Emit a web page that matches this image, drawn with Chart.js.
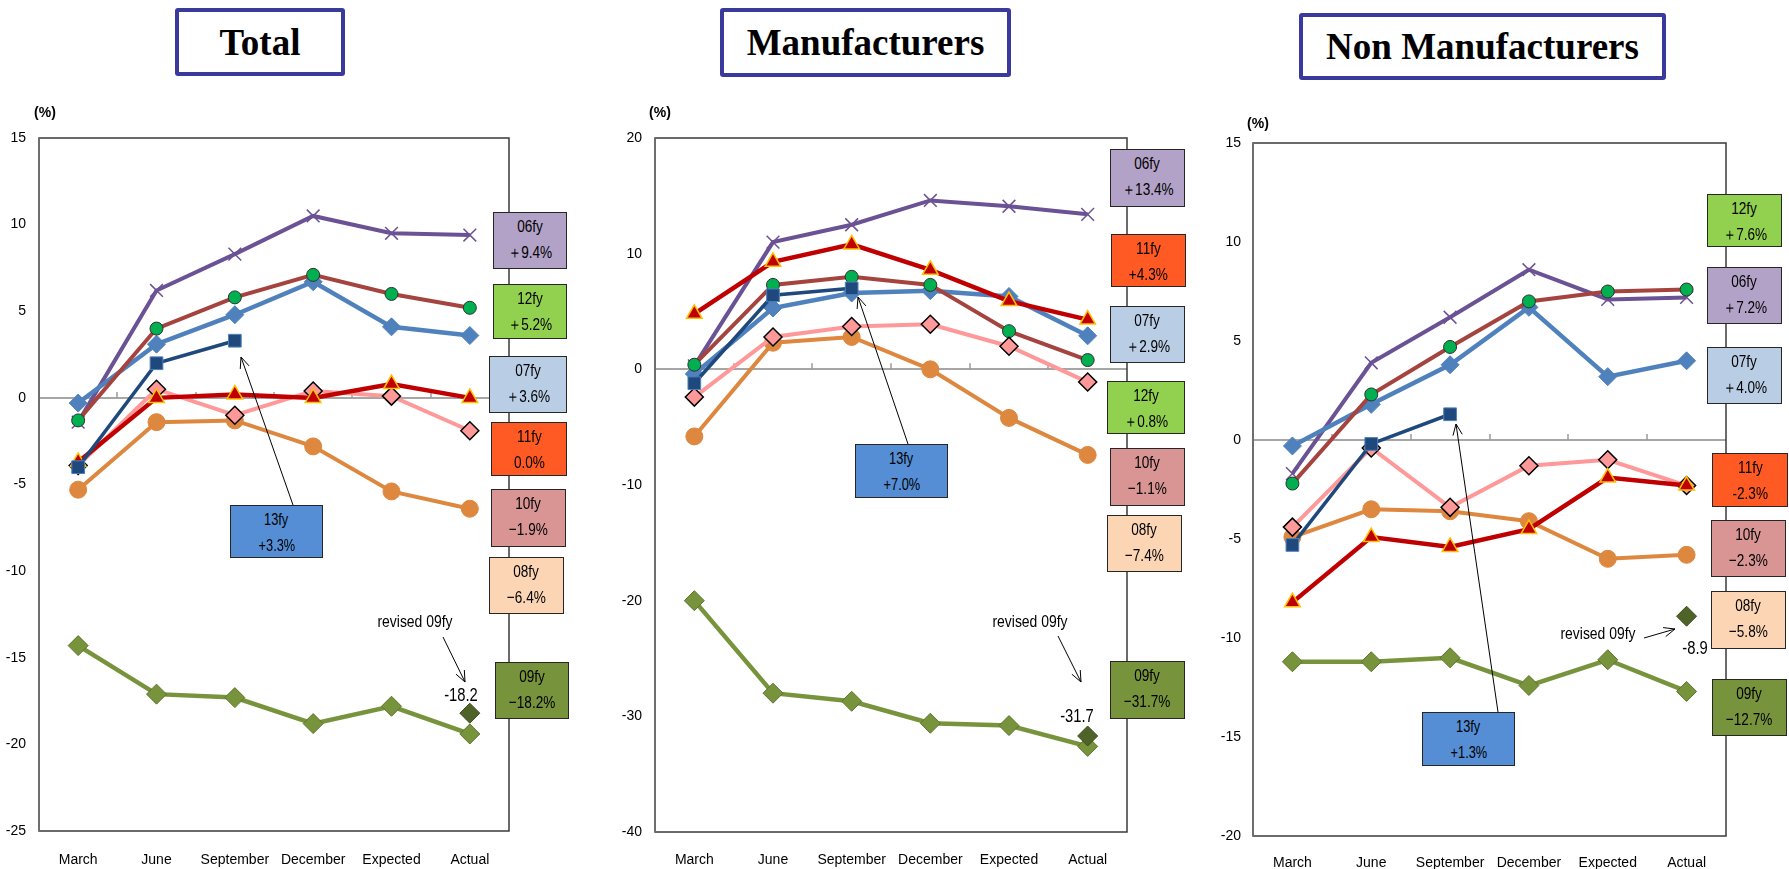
<!DOCTYPE html>
<html>
<head>
<meta charset="utf-8">
<script src="https://cdn.jsdelivr.net/npm/chart.js@4.4.0/dist/chart.umd.min.js"></script>
<style>
  body { margin: 0; background: #fff; }
  #page { position: relative; width: 1789px; height: 869px; overflow: hidden;
          font-family: 'Liberation Sans', Arial, sans-serif; }
  canvas { position: absolute; }
  .title { position: absolute; box-sizing: border-box; border: 4px solid #3A3A9C; border-radius: 3px;
           font-family: 'Liberation Serif', 'Times New Roman', serif; font-weight: bold; font-size: 37px;
           display: flex; align-items: center; justify-content: center; background: #fff; }
  .tag { position: absolute; box-sizing: border-box; border: 1.5px solid #262626; text-align: center;
         font-size: 17px; line-height: 26px; padding-top: 1px; color: #000; }
  .tag span { display: inline-block; transform: scaleX(0.8); white-space: nowrap; }
  .note { position: absolute; transform: translate(-50%, -50%) scaleX(0.82); white-space: nowrap; font-size: 17px; }
  .unit { position: absolute; transform: translate(-50%, -50%); font-weight: bold; font-size: 14px; }
</style>
</head>
<body>
<div id="page">
  <canvas id="chartTotal"></canvas>
  <canvas id="chartMfg"></canvas>
  <canvas id="chartNon"></canvas>
</div>
<script>
// categorie asse x
const categories = ['March', 'June', 'September', 'December', 'Expected', 'Actual'];

// Total
const total06 = [-1.4, 6.2, 8.3, 10.5, 9.5, 9.4];
const total07 = [-0.3, 3.1, 4.8, 6.7, 4.1, 3.6];
const total08 = [-5.3, -1.4, -1.3, -2.8, -5.4, -6.4];
const total09 = [-14.3, -17.1, -17.3, -18.8, -17.8, -19.4];
const total10 = [-3.9, 0.5, -1.0, 0.4, 0.1, -1.9];
const total11 = [-3.7, 0.0, 0.2, 0.0, 0.8, 0.0];
const total12 = [-1.3, 4.0, 5.8, 7.1, 6.0, 5.2];
const total13 = [-4.0, 2.0, 3.3];
const totalRevised09 = -18.2;

// Manufacturers
const mfg06 = [0.3, 11.0, 12.5, 14.6, 14.1, 13.4];
const mfg07 = [-0.4, 5.3, 6.6, 6.8, 6.3, 2.9];
const mfg08 = [-5.8, 2.3, 2.8, 0.0, -4.2, -7.4];
const mfg09 = [-20.0, -28.0, -28.7, -30.6, -30.8, -32.6];
const mfg10 = [-2.4, 2.8, 3.7, 3.9, 2.0, -1.1];
const mfg11 = [4.8, 9.3, 10.8, 8.6, 5.9, 4.3];
const mfg12 = [0.4, 7.3, 8.0, 7.3, 3.3, 0.8];
const mfg13 = [-1.2, 6.4, 7.0];
const mfgRevised09 = -31.7;

// Non Manufacturers
const non06 = [-1.7, 3.9, 6.2, 8.6, 7.1, 7.2];
const non07 = [-0.3, 1.8, 3.8, 6.7, 3.2, 4.0];
const non08 = [-4.9, -3.5, -3.6, -4.1, -6.0, -5.8];
const non09 = [-11.2, -11.2, -11.0, -12.4, -11.1, -12.7];
const non10 = [-4.4, -0.4, -3.4, -1.3, -1.0, -2.3];
const non11 = [-8.2, -4.9, -5.4, -4.5, -1.9, -2.3];
const non12 = [-2.2, 2.3, 4.7, 7.0, 7.5, 7.6];
const non13 = [-5.3, -0.2, 1.3];
const nonRevised09 = -8.9;

// stili delle serie (ordine = ordine di disegno, il primo sta sopra)
const seriesStyles = {
    '13fy': { color: '#1F497D', width: 3.5, point: 'rect', r: 9, fill: '#1F497D', edge: '#4F81BD', edgeW: 1 },
    '11fy': { color: '#C00000', width: 4.5, point: 'triangle', r: 9, fill: '#C00000', edge: '#FFC000', edgeW: 1.5 },
    '10fy': { color: '#FF9999', width: 4, point: 'rectRot', r: 9, fill: '#FF9999', edge: '#000000', edgeW: 1.5 },
    '12fy': { color: '#A5443F', width: 4, point: 'circle', r: 6.5, fill: '#00B050', edge: '#303030', edgeW: 1 },
    '07fy': { color: '#4F81BD', width: 4.5, point: 'rectRot', r: 9, fill: '#4F81BD', edge: '#4F81BD', edgeW: 1 },
    '06fy': { color: '#6B5294', width: 4, point: 'crossRot', r: 9, fill: '#6B5294', edge: '#6B5294', edgeW: 1.5 },
    '08fy': { color: '#DE873F', width: 4, point: 'circle', r: 8.5, fill: '#DE873F', edge: '#DE873F', edgeW: 1 },
    '09fy': { color: '#77933C', width: 4.5, point: 'rectRot', r: 10, fill: '#77933C', edge: '#5C7530', edgeW: 1 }
};

const tagColors = {
    '06fy': '#B3A2C7', '07fy': '#B9CDE5', '08fy': '#FCD5B5', '09fy': '#77933C',
    '10fy': '#D99594', '11fy': '#FF5A24', '12fy': '#92D050', '13fy': '#558ED5'
};

const panels = [
    {
        id: 'chartTotal', left: 0, top: 90, width: 600, height: 779,
        area: { l: 39, t: 48, r: 509, b: 741 }, tickPad: 13, labelPad: 13,
        yMin: -25, yMax: 15, yStep: 5,
        title: { text: 'Total', x: 175, y: 8, w: 170, h: 68 },
        unit: { x: 45, y: 112 },
        series: { '13fy': total13, '11fy': total11, '10fy': total10, '12fy': total12,
                  '07fy': total07, '06fy': total06, '08fy': total08, '09fy': total09 },
        revised: totalRevised09,
        tags: [
            ['06fy', '＋9.4%', 493, 212, 74, 57],
            ['12fy', '＋5.2%', 493, 284, 74, 55],
            ['07fy', '＋3.6%', 489, 356, 78, 57],
            ['11fy', '0.0%', 491, 422, 76, 54],
            ['10fy', '−1.9%', 491, 489, 75, 58],
            ['08fy', '−6.4%', 489, 557, 75, 57],
            ['09fy', '−18.2%', 495, 662, 74, 57],
            ['13fy', '+3.3%', 230, 505, 93, 53]
        ],
        notes: [['revised 09fy', 415, 622, 17], ['-18.2', 461, 695, 18]],
        arrows: [[293, 505, 241, 357], [443, 637, 465, 682]]
    },
    {
        id: 'chartMfg', left: 600, top: 90, width: 600, height: 779,
        area: { l: 55, t: 48, r: 527, b: 742 }, tickPad: 13, labelPad: 12,
        yMin: -40, yMax: 20, yStep: 10,
        title: { text: 'Manufacturers', x: 720, y: 8, w: 291, h: 69 },
        unit: { x: 660, y: 112 },
        series: { '13fy': mfg13, '11fy': mfg11, '10fy': mfg10, '12fy': mfg12,
                  '07fy': mfg07, '06fy': mfg06, '08fy': mfg08, '09fy': mfg09 },
        revised: mfgRevised09,
        tags: [
            ['06fy', '＋13.4%', 1110, 149, 75, 58],
            ['11fy', '+4.3%', 1111, 234, 75, 53],
            ['07fy', '＋2.9%', 1110, 306, 75, 57],
            ['12fy', '＋0.8%', 1107, 381, 78, 53],
            ['10fy', '−1.1%', 1110, 448, 75, 58],
            ['08fy', '−7.4%', 1107, 515, 75, 57],
            ['09fy', '−31.7%', 1110, 661, 75, 58],
            ['13fy', '+7.0%', 855, 444, 93, 54]
        ],
        notes: [['revised 09fy', 1030, 622, 17], ['-31.7', 1077, 716, 18]],
        arrows: [[908, 444, 858, 297], [1058, 636, 1081, 682]]
    },
    {
        id: 'chartNon', left: 1200, top: 90, width: 589, height: 779,
        area: { l: 53, t: 53, r: 526, b: 746 }, tickPad: 12, labelPad: 11,
        yMin: -20, yMax: 15, yStep: 5,
        title: { text: 'Non Manufacturers', x: 1299, y: 13, w: 367, h: 67 },
        unit: { x: 1258, y: 123 },
        series: { '13fy': non13, '11fy': non11, '10fy': non10, '12fy': non12,
                  '07fy': non07, '06fy': non06, '08fy': non08, '09fy': non09 },
        revised: nonRevised09,
        tags: [
            ['12fy', '＋7.6%', 1707, 194, 75, 53],
            ['06fy', '＋7.2%', 1707, 267, 75, 57],
            ['07fy', '＋4.0%', 1707, 347, 75, 57],
            ['11fy', '-2.3%', 1712, 453, 76, 54],
            ['10fy', '−2.3%', 1711, 520, 75, 57],
            ['08fy', '−5.8%', 1711, 591, 75, 58],
            ['09fy', '−12.7%', 1712, 679, 75, 57],
            ['13fy', '+1.3%', 1422, 712, 93, 54]
        ],
        notes: [['revised 09fy', 1598, 634, 17], ['-8.9', 1695, 648, 18]],
        arrows: [[1498, 712, 1456, 424], [1644, 638, 1675, 629]]
    }
];

// cornice, tacche sulla linea dello zero, frecce
const framePlugin = {
    id: 'frame',
    beforeDatasetsDraw(chart) {
        const { ctx, chartArea: a, scales: { x, y } } = chart;
        ctx.save();
        const y0 = y.getPixelForValue(0);
        ctx.strokeStyle = '#9a9a9a';
        ctx.lineWidth = 1.5;
        for (let i = 0; i < categories.length - 1; i++) {
            const px = Math.round((x.getPixelForValue(i) + x.getPixelForValue(i + 1)) / 2);
            ctx.beginPath();
            ctx.moveTo(px, y0);
            ctx.lineTo(px, y0 - 6);
            ctx.stroke();
        }
        ctx.strokeStyle = '#3a3a3a';
        ctx.lineWidth = 1.5;
        ctx.strokeRect(a.left, a.top, a.right - a.left, a.bottom - a.top);
        ctx.strokeStyle = '#6e6e6e';
        ctx.lineWidth = 2;
        ctx.beginPath();
        ctx.moveTo(a.left, a.top);
        ctx.lineTo(a.left, a.bottom);
        ctx.stroke();
        ctx.restore();
    },
    afterDraw(chart, args, opts) {
        const ctx = chart.ctx;
        ctx.save();
        ctx.strokeStyle = '#000';
        ctx.lineWidth = 1;
        (opts.arrows || []).forEach(([x1, y1, x2, y2]) => {
            const ax = x1 - opts.offX, ay = y1 - opts.offY;
            const bx = x2 - opts.offX, by = y2 - opts.offY;
            const ang = Math.atan2(by - ay, bx - ax);
            ctx.beginPath();
            ctx.moveTo(ax, ay);
            ctx.lineTo(bx, by);
            ctx.moveTo(bx - 12 * Math.cos(ang - 0.4), by - 12 * Math.sin(ang - 0.4));
            ctx.lineTo(bx, by);
            ctx.lineTo(bx - 12 * Math.cos(ang + 0.4), by - 12 * Math.sin(ang + 0.4));
            ctx.stroke();
        });
        ctx.restore();
    }
};

function buildDatasets(p) {
    const revisedData = categories.map((_, i) => i === categories.length - 1 ? p.revised : null);
    const list = [{
        label: 'revised 09fy',
        data: revisedData,
        showLine: false,
        pointStyle: 'rectRot',
        pointRadius: 10,
        pointBackgroundColor: '#4F6228',
        pointBorderColor: '#3E4E20',
        pointBorderWidth: 1
    }];
    Object.keys(p.series).forEach(name => {
        const s = seriesStyles[name];
        list.push({
            label: name,
            data: p.series[name],
            borderColor: s.color,
            borderWidth: s.width,
            backgroundColor: s.fill,
            pointStyle: s.point,
            pointRadius: s.r,
            pointBackgroundColor: s.fill,
            pointBorderColor: s.edge,
            pointBorderWidth: s.edgeW,
            tension: 0
        });
    });
    return list;
}

function addText(p) {
    const page = document.getElementById('page');
    const t = document.createElement('div');
    t.className = 'title';
    t.textContent = p.title.text;
    Object.assign(t.style, { left: p.title.x + 'px', top: p.title.y + 'px', width: p.title.w + 'px', height: p.title.h + 'px' });
    page.appendChild(t);

    const u = document.createElement('div');
    u.className = 'unit';
    u.textContent = '(%)';
    Object.assign(u.style, { left: p.unit.x + 'px', top: p.unit.y + 'px' });
    page.appendChild(u);

    p.tags.forEach(([name, value, x, y, w, h]) => {
        const d = document.createElement('div');
        d.className = 'tag';
        d.innerHTML = '<span>' + name + '</span><br><span>' + value + '</span>';
        Object.assign(d.style, { left: x + 'px', top: y + 'px', width: w + 'px', height: h + 'px', background: tagColors[name] });
        if (name === '13fy') d.style.fontSize = '16px';
        page.appendChild(d);
    });

    p.notes.forEach(([text, x, y, size]) => {
        const n = document.createElement('div');
        n.className = 'note';
        n.textContent = text;
        Object.assign(n.style, { left: x + 'px', top: y + 'px', fontSize: size + 'px' });
        page.appendChild(n);
    });
}

const axisFont = "'Liberation Sans', Arial, sans-serif";

panels.forEach(p => {
    const canvas = document.getElementById(p.id);
    canvas.width = p.width;
    canvas.height = p.height;
    canvas.style.left = p.left + 'px';
    canvas.style.top = p.top + 'px';

    new Chart(canvas, {
        type: 'line',
        data: { labels: categories, datasets: buildDatasets(p) },
        options: {
            responsive: false,
            animation: false,
            devicePixelRatio: 1,
            events: [],
            layout: { padding: { left: 0, top: p.area.t, right: p.width - p.area.r, bottom: 0 } },
            plugins: {
                legend: { display: false },
                tooltip: { enabled: false },
                frame: { arrows: p.arrows, offX: p.left, offY: p.top }
            },
            scales: {
                x: {
                    type: 'category',
                    offset: true,
                    grid: { display: false },
                    border: { display: false },
                    ticks: { color: '#000', padding: p.labelPad, autoSkip: false, maxRotation: 0,
                             font: { family: axisFont, size: 14 } },
                    afterFit: scale => { scale.height = p.height - p.area.b; }
                },
                y: {
                    min: p.yMin,
                    max: p.yMax,
                    grid: {
                        drawTicks: false,
                        lineWidth: 2,
                        color: ctx => ctx.tick && ctx.tick.value === 0 ? '#a6a6a6' : 'rgba(0,0,0,0)'
                    },
                    border: { display: false },
                    ticks: { stepSize: p.yStep, color: '#000', padding: p.tickPad, font: { family: axisFont, size: 14 } },
                    afterFit: scale => { scale.width = p.area.l; }
                }
            }
        },
        plugins: [framePlugin]
    });

    addText(p);
});
</script>
</body>
</html>
